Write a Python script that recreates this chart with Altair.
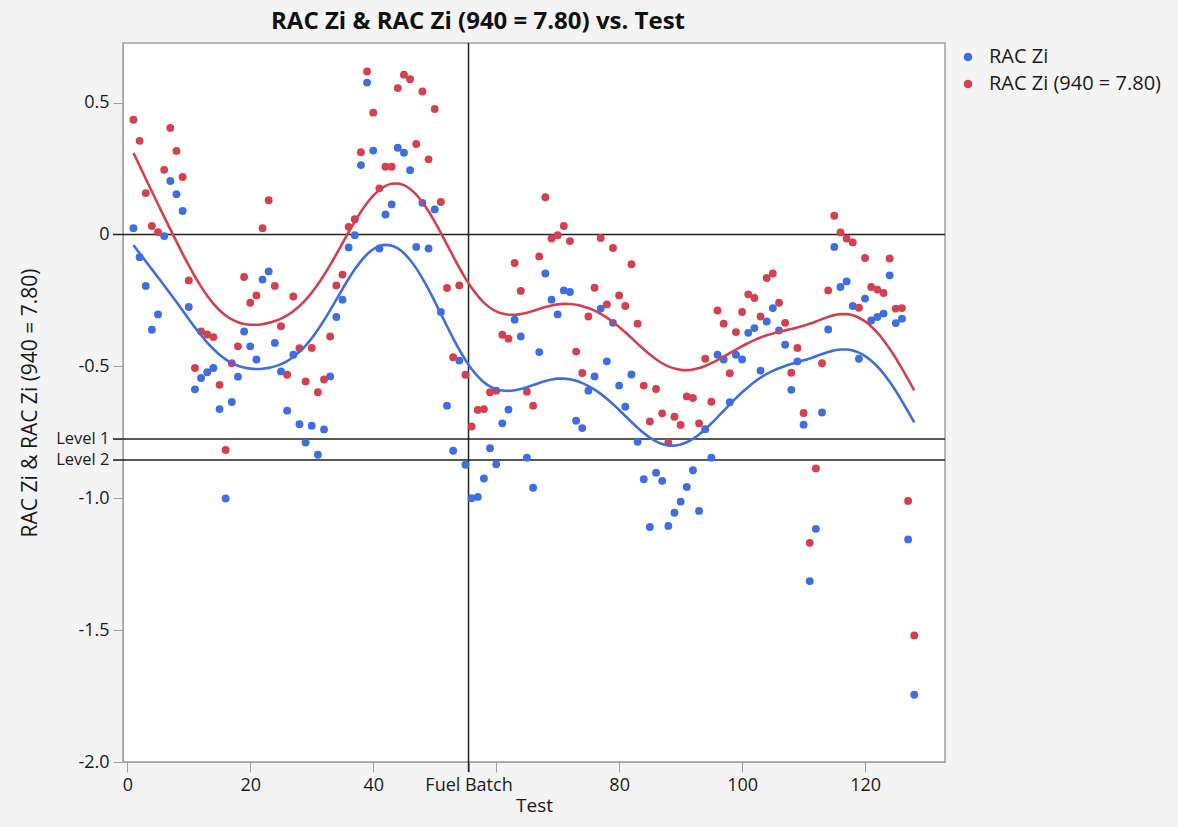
import altair as alt
import numpy as np
import pandas as pd

# Test number for every run
test = list(range(1, 129))

# RAC Zi per test
rac_zi = [
    0.024, -0.086, -0.195, -0.361, -0.303, -0.006, 0.203, 0.153, 0.089, -0.275,
    -0.587, -0.544, -0.522, -0.506, -0.662, -1.001, -0.635, -0.539, -0.368, -0.424,
    -0.474, -0.171, -0.140, -0.411, -0.519, -0.668, -0.456, -0.719, -0.789, -0.725,
    -0.835, -0.739, -0.538, -0.313, -0.247, -0.049, -0.003, 0.263, 0.576, 0.318,
    -0.053, 0.076, 0.114, 0.329, 0.310, 0.244, -0.047, 0.120, -0.053, 0.095,
    -0.294, -0.649, -0.820, -0.478, -0.873, -1.000, -0.995, -0.925, -0.810, -0.871,
    -0.716, -0.664, -0.323, -0.387, -0.846, -0.960, -0.446, -0.148, -0.247, -0.303,
    -0.212, -0.218, -0.706, -0.734, -0.592, -0.538, -0.281, -0.481, -0.335, -0.573,
    -0.653, -0.531, -0.786, -0.928, -1.109, -0.903, -0.934, -1.105, -1.055, -1.013,
    -0.957, -0.894, -1.048, -0.738, -0.846, -0.456, -0.474, -0.636, -0.456, -0.474,
    -0.373, -0.355, -0.516, -0.330, -0.279, -0.364, -0.418, -0.589, -0.481, -0.721,
    -1.314, -1.116, -0.675, -0.360, -0.047, -0.199, -0.178, -0.271, -0.471, -0.243,
    -0.326, -0.313, -0.300, -0.155, -0.336, -0.319, -1.156, -1.745,
]

# RAC Zi corrected to 940 = 7.80
rac_zi_940 = [
    0.435, 0.355, 0.157, 0.032, 0.009, 0.245, 0.404, 0.317, 0.218, -0.174,
    -0.506, -0.368, -0.379, -0.389, -0.570, -0.817, -0.488, -0.424, -0.161, -0.259,
    -0.231, 0.024, 0.130, -0.195, -0.348, -0.532, -0.235, -0.431, -0.557, -0.430,
    -0.598, -0.550, -0.387, -0.193, -0.152, 0.029, 0.058, 0.312, 0.618, 0.462,
    0.175, 0.257, 0.257, 0.555, 0.606, 0.589, 0.343, 0.542, 0.285, 0.476,
    0.123, -0.203, -0.465, -0.193, -0.532, -0.728, -0.665, -0.662, -0.598, -0.592,
    -0.380, -0.395, -0.108, -0.214, -0.596, -0.649, -0.083, 0.141, -0.015, -0.003,
    0.032, -0.025, -0.444, -0.525, -0.311, -0.202, -0.013, -0.265, -0.051, -0.231,
    -0.271, -0.113, -0.338, -0.573, -0.709, -0.586, -0.678, -0.789, -0.691, -0.722,
    -0.614, -0.620, -0.716, -0.471, -0.634, -0.288, -0.338, -0.526, -0.370, -0.294,
    -0.227, -0.241, -0.311, -0.165, -0.148, -0.259, -0.335, -0.524, -0.430, -0.677,
    -1.169, -0.887, -0.488, -0.212, 0.071, 0.008, -0.015, -0.030, -0.278, -0.089,
    -0.199, -0.209, -0.222, -0.091, -0.281, -0.279, -1.010, -1.520,
]

series_names = ["RAC Zi", "RAC Zi (940 = 7.80)"]
series_colors = ["#3f6fdf", "#d5404f"]

# Reference lines: levels on the response axis, fuel batch change on the test axis
level_values = [-0.775, -0.855]
level_labels = ["Level 1", "Level 2"]
fuel_batch = 55.5

y_ticks = [-2.0, -1.5, -1.0, -0.5, 0.0, 0.5]
y_tick_labels = ["-2.0", "-1.5", "-1.0", "-0.5", "0", "0.5"]
x_ticks = [0, 20, 40, 60, 80, 100, 120]

# Smoothing-spline stiffness for the fitted curves
SPLINE_LAMBDA = 1200.0


def smoothing_spline(values, lam):
    """Cubic smoothing spline on unit-spaced x (Reinsch form)."""
    y = np.asarray(values, dtype=float)
    n = len(y)
    q = np.zeros((n, n - 2))
    r = np.zeros((n - 2, n - 2))
    for j in range(n - 2):
        q[j, j], q[j + 1, j], q[j + 2, j] = 1.0, -2.0, 1.0
        r[j, j] = 2.0 / 3.0
        if j + 1 < n - 2:
            r[j, j + 1] = r[j + 1, j] = 1.0 / 6.0
    gamma = np.linalg.solve(r + lam * q.T @ q, q.T @ y)
    return y - lam * q @ gamma


W, H = 822, 719
FONT = "Open Sans"
TEXT = "#1a1a1a"

df = pd.DataFrame({
    "Test": test * 2,
    "Value": rac_zi + rac_zi_940,
    "Fit": np.concatenate([smoothing_spline(rac_zi, SPLINE_LAMBDA),
                           smoothing_spline(rac_zi_940, SPLINE_LAMBDA)]),
    "Series": [series_names[0]] * len(test) + [series_names[1]] * len(test),
})

x_scale = alt.Scale(domain=[-0.7, 133], nice=False, zero=False)
y_scale = alt.Scale(domain=[-2.0, 0.726], nice=False, zero=False)
color_scale = alt.Scale(domain=series_names, range=series_colors)

y_label_parts = [f"datum.value == {v} ? '{t}'" for v, t in zip(level_values, level_labels)]
y_label_parts += [f"abs(datum.value - ({v})) < 1e-9 ? '{t}'" for v, t in zip(y_ticks, y_tick_labels)]
y_label_expr = " : ".join(y_label_parts) + " : ''"
level_test = " || ".join(f"datum.value == {v}" for v in level_values)

x_label_expr = (
    f"datum.value == {fuel_batch} ? 'Fuel Batch' : "
    "datum.value == 60 ? '' : datum.label"
)

x_enc = alt.X(
    "Test:Q", scale=x_scale, title="Test",
    axis=alt.Axis(values=sorted(x_ticks + [fuel_batch]), labelExpr=x_label_expr,
                  labelOverlap=False, grid=False, titleY=34, titleFontSize=19),
)
y_enc = alt.Y(
    "Value:Q", scale=y_scale, title="RAC Zi & RAC Zi (940 = 7.80)",
    axis=alt.Axis(values=y_ticks + level_values, labelExpr=y_label_expr,
                  labelOverlap=False, grid=False, titleX=-83, titleY=H / 2,
                  titleAngle=-90, titleAlign="center", titleBaseline="bottom",
                  titleFontSize=21,
                  labelFontSize={"condition": {"test": level_test, "value": 16.5},
                                 "value": 18}),
)

hline_df = pd.DataFrame({"y": [0.0] + level_values})
hlines = alt.Chart(hline_df).mark_rule(color="#222222", strokeWidth=1.5).encode(
    y=alt.Y("y:Q", scale=y_scale),
    x=alt.value(-10),
    x2=alt.value(W),
)

vline = alt.Chart(pd.DataFrame({"x": [fuel_batch]})).mark_rule(
    color="#222222", strokeWidth=1.5
).encode(
    x=alt.X("x:Q", scale=x_scale),
    y=alt.value(0),
    y2=alt.value(H + 10),
)

points = alt.Chart(df).mark_circle(size=62, opacity=1).encode(
    x=x_enc,
    y=y_enc,
    color=alt.Color("Series:N", scale=color_scale, title=None,
                    legend=alt.Legend(orient="none", legendX=835, legendY=4,
                                      symbolType="circle", symbolSize=50,
                                      labelFontSize=20, labelFont=FONT,
                                      labelColor=TEXT, rowPadding=7,
                                      labelOffset=11, padding=0, labelLimit=0)),
)

smooth = alt.Chart(df).mark_line(strokeWidth=2.6, interpolate="monotone").encode(
    x=alt.X("Test:Q", scale=x_scale),
    y=alt.Y("Fit:Q", scale=y_scale),
    color=alt.Color("Series:N", scale=color_scale, legend=None),
    detail="Series:N",
)

chart = alt.layer(hlines, vline, points, smooth).properties(
    width=W,
    height=H,
    title=alt.TitleParams(
        "RAC Zi & RAC Zi (940 = 7.80) vs. Test",
        fontSize=24, fontWeight="bold", font=FONT, color="#111111",
        anchor="middle", frame="group", dx=-56, offset=8,
    ),
    autosize=alt.AutoSizeParams(type="none"),
    padding={"left": 123, "top": 43, "right": 1178 - 123 - W, "bottom": 827 - 43 - H},
    background="#f4f4f4",
).configure_view(
    stroke="#a0a0a0", strokeWidth=1.5, fill="white"
).configure_axis(
    labelFont=FONT, labelFontSize=18, labelColor=TEXT,
    titleFont=FONT, titleFontWeight="normal", titleColor=TEXT,
    tickColor="#a0a0a0", tickSize=10, domainColor="#a0a0a0", labelPadding=4,
)

chart.save("out.html", embed_options={"renderer": "svg", "actions": False})
